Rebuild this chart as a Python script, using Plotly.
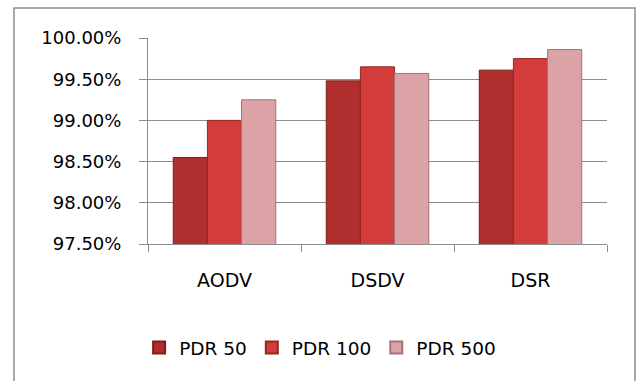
import plotly.graph_objects as go

# Packet delivery ratio per routing protocol
protocols = ["AODV", "DSDV", "DSR"]
pdr_50 = [0.9855, 0.9948, 0.9961]
pdr_100 = [0.9900, 0.9965, 0.9975]
pdr_500 = [0.9925, 0.9957, 0.9986]

series_names = ["PDR 50", "PDR 100", "PDR 500"]
series_values = [pdr_50, pdr_100, pdr_500]
fill_colors = ["#b02e2d", "#d23c3b", "#dba3a6"]
edge_colors = ["#7e1c1c", "#992626", "#a87175"]

FONT = "DejaVu Sans"

fig = go.Figure()
for name, vals, fc, ec in zip(series_names, series_values, fill_colors, edge_colors):
    fig.add_trace(go.Bar(
        x=protocols, y=vals, name=name,
        marker=dict(color=fc, line=dict(color=ec, width=1)),
    ))

fig.update_layout(
    width=637, height=381,
    margin=dict(l=148, r=30, t=38, b=137),
    paper_bgcolor="white", plot_bgcolor="white",
    barmode="group", bargap=0.33, bargroupgap=0,
    font=dict(family=FONT, color="#000000"),
    showlegend=True,
    legend=dict(
        orientation="h", x=0.375, y=-0.505, xanchor="center", yanchor="middle",
        font=dict(family=FONT, size=18.5, color="#000000"),
        itemsizing="constant", traceorder="normal",
    ),
    xaxis=dict(
        showline=True, linecolor="#8c8c8c", linewidth=1,
        ticks="outside", tickson="boundaries", ticklen=7, tickcolor="#8c8c8c",
        tickfont=dict(family=FONT, size=19, color="#000000"),
        ticklabelstandoff=19, showgrid=False,
    ),
    yaxis=dict(
        range=[0.975, 1.0], dtick=0.005, tick0=0.975, tickformat=".2%",
        showline=True, linecolor="#8c8c8c", linewidth=1,
        ticks="outside", ticklen=8, tickcolor="#8c8c8c",
        showgrid=True, gridcolor="#8c8c8c", gridwidth=1,
        tickfont=dict(family=FONT, size=18, color="#000000"),
        ticklabelstandoff=14, zeroline=False,
    ),
    shapes=[dict(
        type="rect", xref="paper", yref="paper",
        x0=(14 - 148) / 459, x1=(635 - 148) / 459,
        y0=(244 - 400) / 206, y1=(244 - 8) / 206,
        line=dict(color="#8c8c8c", width=1.5), fillcolor="rgba(0,0,0,0)",
        layer="below",
    )],
)

fig.write_html("out.html")
